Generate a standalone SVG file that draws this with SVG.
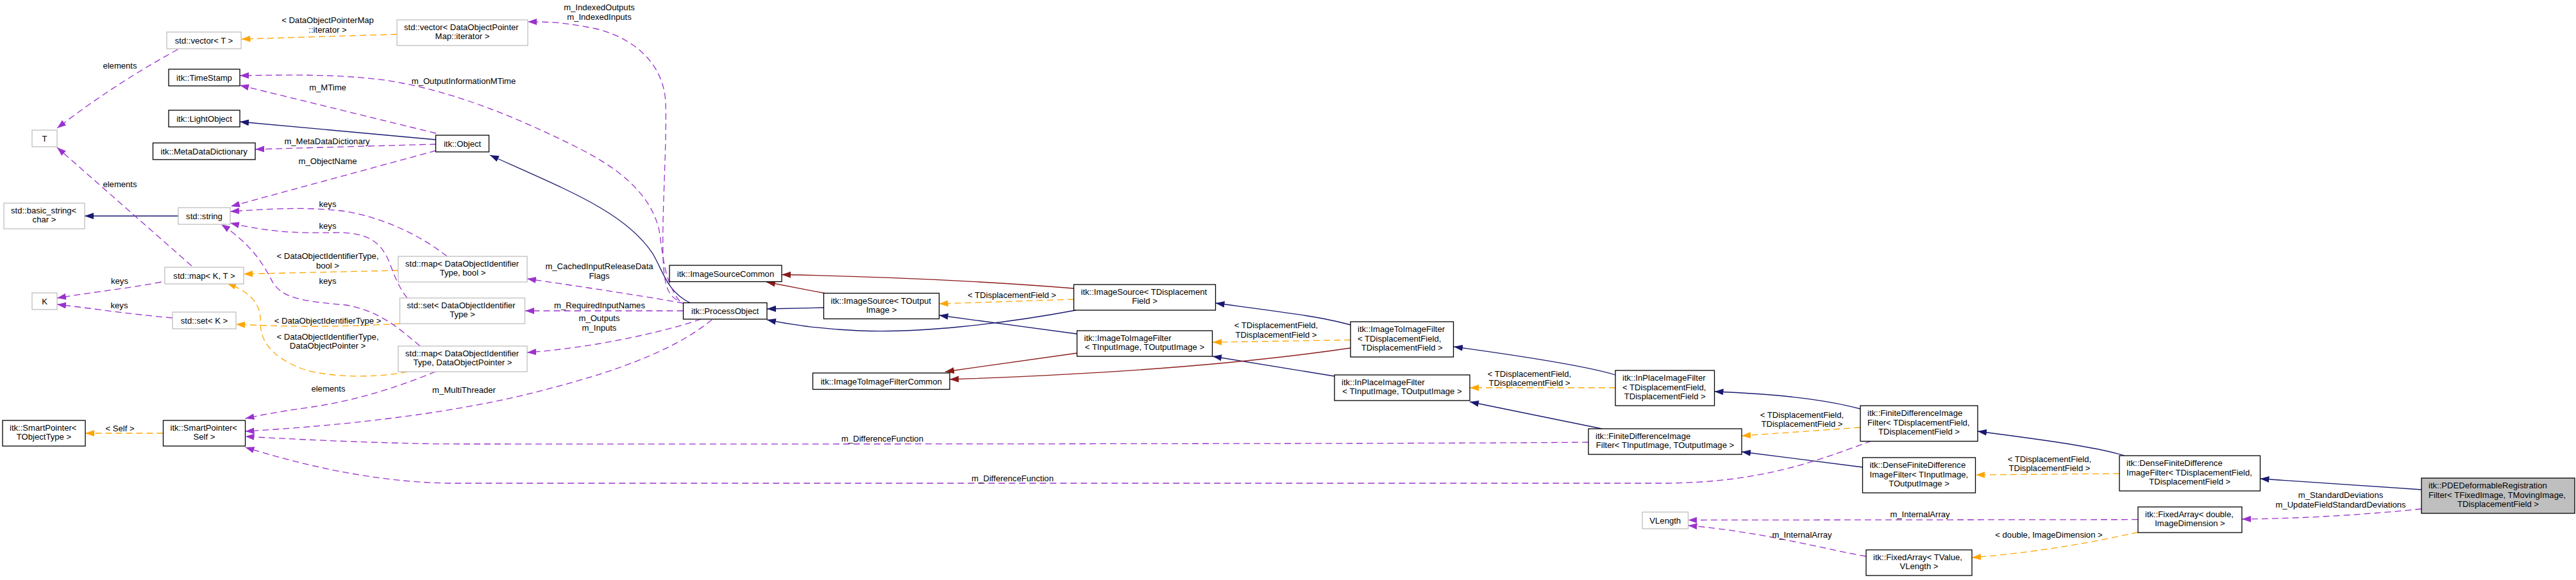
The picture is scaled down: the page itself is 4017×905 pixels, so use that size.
<svg xmlns="http://www.w3.org/2000/svg" width="4017" height="905" viewBox="0 0 4017 905">
<style>
text{font-family:"Liberation Sans",Arial,Helvetica,sans-serif;font-size:13.1px;fill:#000}
.m{text-anchor:middle}
.n rect{fill:#fff;stroke:#000;stroke-width:1.3}
.g rect{fill:#fff;stroke:#bfbfbf;stroke-width:1.3}
.sel rect{fill:#bfbfbf;stroke:#000;stroke-width:1.3}
.e path{fill:none;stroke-width:1.3}
.inh{stroke:#191970;marker-end:url(#aB)}
.priv{stroke:#8b1a1a;marker-end:url(#aR)}
.tmpl{stroke:#ffa500;stroke-dasharray:10,6;marker-end:url(#aO)}
.use{stroke:#9a32cd;stroke-dasharray:10,6;marker-end:url(#aP)}
</style>
<defs>
<marker id="aB" markerUnits="userSpaceOnUse" markerWidth="15" markerHeight="11" refX="14" refY="5" orient="auto"><path d="M0,0 L14,5 L0,10 z" fill="#191970"/></marker>
<marker id="aR" markerUnits="userSpaceOnUse" markerWidth="15" markerHeight="11" refX="14" refY="5" orient="auto"><path d="M0,0 L14,5 L0,10 z" fill="#8b1a1a"/></marker>
<marker id="aO" markerUnits="userSpaceOnUse" markerWidth="15" markerHeight="11" refX="14" refY="5" orient="auto"><path d="M0,0 L14,5 L0,10 z" fill="#ffa500"/></marker>
<marker id="aP" markerUnits="userSpaceOnUse" markerWidth="15" markerHeight="11" refX="14" refY="5" orient="auto"><path d="M0,0 L14,5 L0,10 z" fill="#9a32cd"/></marker>
</defs>
<rect width="4017" height="905" fill="#fff"/>
<g id="edges" class="e">
<path class="inh" d="M680,218 L374,190"/>
<path class="inh" d="M1077,473 C1040,455 1035,425 1018,396 C975,330 880,295 764,242"/>
<path class="inh" d="M1284.5,480 L1196,482"/>
<path class="inh" d="M1679.5,521 L1464.5,492"/>
<path class="inh" d="M1678,484 C1560,506 1430,520 1340,516 C1290,514 1240,508 1196,499"/>
<path class="inh" d="M2106,507 C2060,494 2000,487 1895.5,473"/>
<path class="inh" d="M2081,587 L1891,556"/>
<path class="inh" d="M2519,585 C2490,576 2420,562 2267,541"/>
<path class="inh" d="M2498,669 L2292,627"/>
<path class="inh" d="M2901,638 C2850,624 2780,615 2673.5,611"/>
<path class="inh" d="M2904.5,729 L2716,705"/>
<path class="inh" d="M3313,711 C3270,698 3200,688 3084,673"/>
<path class="inh" d="M3776,764 L3524.5,747"/>
<path class="inh" d="M278,337 L132,337"/>
<path class="priv" d="M1674.5,450 C1550,440 1400,432 1219,428.5"/>
<path class="priv" d="M1286,457.5 L1195,440"/>
<path class="priv" d="M1679.5,551 L1474,580"/>
<path class="priv" d="M2106,543 C1950,566 1750,583 1481,592"/>
<path class="tmpl" d="M619,53.5 L376.5,61"/>
<path class="tmpl" d="M621,422 L380,427.5"/>
<path class="tmpl" d="M624,505 C520,511 450,510 368,506"/>
<path class="tmpl" d="M635,580 C600,588 520,592 470,575 C420,555 405,530 406,500 C407,475 390,455 354,442"/>
<path class="tmpl" d="M1674.5,467 L1464.5,474"/>
<path class="tmpl" d="M2106,530.5 L1891,534"/>
<path class="tmpl" d="M2519,605 L2292,605"/>
<path class="tmpl" d="M2901,667 L2716,680"/>
<path class="tmpl" d="M3305,739 L3081,741"/>
<path class="tmpl" d="M3334,830.5 C3290,840 3200,860 3075,870"/>
<path class="tmpl" d="M254.5,676 L133,676"/>
<path class="use" d="M277.5,77 Q180,130 89,200"/>
<path class="use" d="M299,415 L89,230"/>
<path class="use" d="M251.5,440 C200,450 150,455 89,465"/>
<path class="use" d="M269,496 C200,490 150,482 89,475"/>
<path class="use" d="M680,208 L374,133"/>
<path class="use" d="M1060,470 C1036,440 1034,400 1028,360 C1015,300 960,260 900,230 C800,180 700,140 600,125 C520,115 450,117 374,118"/>
<path class="use" d="M1056,468 C1040,460 1035,440 1034,400 C1032,330 1040,230 1038,160 C1035,100 990,60 930,45 C880,35 860,34 823,34"/>
<path class="use" d="M680,225 L398,233"/>
<path class="use" d="M680,235 L360,322"/>
<path class="use" d="M697,400 C660,370 600,340 540,330 C480,322 420,326 359,330"/>
<path class="use" d="M635,465 C615,440 610,410 600,395 C585,370 560,362 520,363 C460,364 420,362 359,348"/>
<path class="use" d="M655,540 C620,510 590,485 540,476 C470,470 440,465 425,440 C410,410 390,380 345,350"/>
<path class="use" d="M679,580 C630,600 560,625 480,636 C430,643 410,647 382.5,653"/>
<path class="use" d="M1065.5,485 L819,485"/>
<path class="use" d="M1065.5,473 C1020,465 940,452 822,435"/>
<path class="use" d="M1093,498 C1060,510 1000,525 930,537 C880,545 850,548 822,550"/>
<path class="use" d="M1110,499 C1060,540 980,575 850,608 C750,635 600,660 382.5,673"/>
<path class="use" d="M2477,690 C2200,693 1000,693 680,692.7 C550,690 450,685 382.5,681"/>
<path class="use" d="M2918.5,688 C2830,720 2750,752 2600,754 L700,754 C580,752 470,725 382.5,698"/>
<path class="use" d="M3334,810.7 L2632.5,811.5"/>
<path class="use" d="M2910,868 C2850,858 2750,830 2632.5,820"/>
<path class="use" d="M3776,794 C3700,802 3600,809 3496,810"/>
</g>
<g id="edge-labels">
<text class="m" x="511" y="36.4">&lt; DataObjectPointerMap</text>
<text class="m" x="511" y="51.4">::iterator &gt;</text>
<text class="m" x="511" y="403.7">&lt; DataObjectIdentifierType,</text>
<text class="m" x="511" y="418.7">bool &gt;</text>
<text class="m" x="511" y="505.4">&lt; DataObjectIdentifierType &gt;</text>
<text class="m" x="511" y="529.7">&lt; DataObjectIdentifierType,</text>
<text class="m" x="511" y="544">DataObjectPointer &gt;</text>
<text class="m" x="1578" y="464.7">&lt; TDisplacementField &gt;</text>
<text class="m" x="1990" y="512.4">&lt; TDisplacementField,</text>
<text class="m" x="1990" y="527">TDisplacementField &gt;</text>
<text class="m" x="2385" y="587.7">&lt; TDisplacementField,</text>
<text class="m" x="2385" y="601.7">TDisplacementField &gt;</text>
<text class="m" x="2810" y="651.7">&lt; TDisplacementField,</text>
<text class="m" x="2810" y="665.7">TDisplacementField &gt;</text>
<text class="m" x="3196" y="720.7">&lt; TDisplacementField,</text>
<text class="m" x="3196" y="734.7">TDisplacementField &gt;</text>
<text class="m" x="3195" y="838.7">&lt; double, ImageDimension &gt;</text>
<text class="m" x="187" y="672.7">&lt; Self &gt;</text>
<text class="m" x="187" y="107.4">elements</text>
<text class="m" x="187" y="291.7">elements</text>
<text class="m" x="186.5" y="443.4">keys</text>
<text class="m" x="186" y="481.4">keys</text>
<text class="m" x="511" y="141.4">m_MTime</text>
<text class="m" x="723" y="131.4">m_OutputInformationMTime</text>
<text class="m" x="934.5" y="16.4">m_IndexedOutputs</text>
<text class="m" x="934.5" y="31.4">m_IndexedInputs</text>
<text class="m" x="510" y="224.7">m_MetaDataDictionary</text>
<text class="m" x="511" y="256.4">m_ObjectName</text>
<text class="m" x="511" y="322.7">keys</text>
<text class="m" x="511" y="357.4">keys</text>
<text class="m" x="511" y="443.4">keys</text>
<text class="m" x="512" y="611.4">elements</text>
<text class="m" x="935" y="481.4">m_RequiredInputNames</text>
<text class="m" x="934.5" y="420.4">m_CachedInputReleaseData</text>
<text class="m" x="934.5" y="435.4">Flags</text>
<text class="m" x="934.5" y="501.4">m_Outputs</text>
<text class="m" x="934.5" y="516.4">m_Inputs</text>
<text class="m" x="723.5" y="613">m_MultiThreader</text>
<text class="m" x="1376" y="688.7">m_DifferenceFunction</text>
<text class="m" x="1579" y="751.4">m_DifferenceFunction</text>
<text class="m" x="2994" y="807.4">m_InternalArray</text>
<text class="m" x="2810" y="838.7">m_InternalArray</text>
<text class="m" x="3650" y="777">m_StandardDeviations</text>
<text class="m" x="3650" y="792">m_UpdateFieldStandardDeviations</text>
</g>
<g id="n1" class="g"><rect x="260" y="50" width="116" height="26"/><text class="m" x="318" y="67.7">std::vector&lt; T &gt;</text></g>
<g id="n2" class="g"><rect x="619" y="31" width="204" height="40"/><text x="630" y="47">std::vector&lt; DataObjectPointer</text><text class="m" x="721" y="61.4">Map::iterator &gt;</text></g>
<g id="n3" class="n"><rect x="263" y="108" width="111" height="26"/><text class="m" x="318.5" y="125.7">itk::TimeStamp</text></g>
<g id="n4" class="n"><rect x="263" y="172" width="111" height="26"/><text class="m" x="318.5" y="189.7">itk::LightObject</text></g>
<g id="n5" class="n"><rect x="238.5" y="223" width="159.5" height="26"/><text class="m" x="318.25" y="240.7">itk::MetaDataDictionary</text></g>
<g id="n6" class="g"><rect x="50" y="203" width="39" height="26"/><text class="m" x="69.5" y="220.7">T</text></g>
<g id="n7" class="g"><rect x="6" y="317" width="126" height="40"/><text x="17" y="333">std::basic_string&lt;</text><text class="m" x="69" y="347.4">char &gt;</text></g>
<g id="n8" class="g"><rect x="278" y="324" width="81" height="26"/><text class="m" x="318.5" y="341.7">std::string</text></g>
<g id="n9" class="g"><rect x="257" y="417" width="123" height="26"/><text class="m" x="318.5" y="434.7">std::map&lt; K, T &gt;</text></g>
<g id="n10" class="g"><rect x="621" y="400" width="201" height="40"/><text x="632" y="416">std::map&lt; DataObjectIdentifier</text><text class="m" x="721.5" y="430.4">Type, bool &gt;</text></g>
<g id="n11" class="g"><rect x="50" y="457" width="39" height="26"/><text class="m" x="69.5" y="474.7">K</text></g>
<g id="n12" class="g"><rect x="269" y="487" width="99" height="26"/><text class="m" x="318.5" y="504.7">std::set&lt; K &gt;</text></g>
<g id="n13" class="g"><rect x="623.5" y="465" width="195" height="40"/><text x="634.5" y="481">std::set&lt; DataObjectIdentifier</text><text class="m" x="721" y="495.4">Type &gt;</text></g>
<g id="n14" class="g"><rect x="621" y="540" width="201" height="40"/><text x="632" y="556">std::map&lt; DataObjectIdentifier</text><text class="m" x="721.5" y="570.4">Type, DataObjectPointer &gt;</text></g>
<g id="n15" class="n"><rect x="4" y="656" width="129" height="40"/><text x="15" y="672">itk::SmartPointer&lt;</text><text class="m" x="68.5" y="686.4">TObjectType &gt;</text></g>
<g id="n16" class="n"><rect x="254.5" y="656" width="128" height="40"/><text x="265.5" y="672">itk::SmartPointer&lt;</text><text class="m" x="318.5" y="686.4">Self &gt;</text></g>
<g id="n17" class="n"><rect x="679.5" y="211" width="83" height="26"/><text class="m" x="721" y="228.7">itk::Object</text></g>
<g id="n18" class="n"><rect x="1044" y="414" width="175" height="25.5"/><text class="m" x="1131.5" y="431.5">itk::ImageSourceCommon</text></g>
<g id="n19" class="n"><rect x="1065.5" y="472.5" width="130.5" height="25.5"/><text class="m" x="1130.75" y="490">itk::ProcessObject</text></g>
<g id="n20" class="n"><rect x="1284.5" y="457.5" width="180" height="40"/><text x="1295.5" y="473.5">itk::ImageSource&lt; TOutput</text><text class="m" x="1374.5" y="487.9">Image &gt;</text></g>
<g id="n21" class="n"><rect x="1267.5" y="582" width="213.5" height="25.5"/><text class="m" x="1374.25" y="599.5">itk::ImageToImageFilterCommon</text></g>
<g id="n22" class="n"><rect x="1674.5" y="444" width="221" height="40"/><text x="1685.5" y="460">itk::ImageSource&lt; TDisplacement</text><text class="m" x="1785" y="474.4">Field &gt;</text></g>
<g id="n23" class="n"><rect x="1679.5" y="516" width="211" height="40"/><text x="1690.5" y="532">itk::ImageToImageFilter</text><text class="m" x="1785" y="546.4">&lt; TInputImage, TOutputImage &gt;</text></g>
<g id="n24" class="n"><rect x="2106" y="502" width="160.5" height="55"/><text x="2117" y="518.2">itk::ImageToImageFilter</text><text x="2117" y="532.8">&lt; TDisplacementField,</text><text class="m" x="2186.25" y="547.4">TDisplacementField &gt;</text></g>
<g id="n25" class="n"><rect x="2081" y="585" width="211" height="40"/><text x="2092" y="601">itk::InPlaceImageFilter</text><text class="m" x="2186.5" y="615.4">&lt; TInputImage, TOutputImage &gt;</text></g>
<g id="n26" class="n"><rect x="2519" y="578" width="154.5" height="55"/><text x="2530" y="594.2">itk::InPlaceImageFilter</text><text x="2530" y="608.8">&lt; TDisplacementField,</text><text class="m" x="2596.25" y="623.4">TDisplacementField &gt;</text></g>
<g id="n27" class="n"><rect x="2477" y="669" width="239" height="40"/><text x="2488" y="685">itk::FiniteDifferenceImage</text><text class="m" x="2596.5" y="699.4">Filter&lt; TInputImage, TOutputImage &gt;</text></g>
<g id="n28" class="g"><rect x="2561" y="799" width="71.5" height="26"/><text class="m" x="2596.75" y="816.7">VLength</text></g>
<g id="n29" class="n"><rect x="2901" y="633" width="183" height="55.5"/><text x="2912" y="649.2">itk::FiniteDifferenceImage</text><text x="2912" y="663.8">Filter&lt; TDisplacementField,</text><text class="m" x="2992.5" y="678.4">TDisplacementField &gt;</text></g>
<g id="n30" class="n"><rect x="2904.5" y="714" width="176" height="55"/><text x="2915.5" y="730.2">itk::DenseFiniteDifference</text><text x="2915.5" y="744.8">ImageFilter&lt; TInputImage,</text><text class="m" x="2992.5" y="759.4">TOutputImage &gt;</text></g>
<g id="n31" class="n"><rect x="3305" y="711" width="219.5" height="55"/><text x="3316" y="727.2">itk::DenseFiniteDifference</text><text x="3316" y="741.8">ImageFilter&lt; TDisplacementField,</text><text class="m" x="3414.75" y="756.4">TDisplacementField &gt;</text></g>
<g id="n32" class="n"><rect x="3334" y="791" width="162" height="40"/><text x="3345" y="807">itk::FixedArray&lt; double,</text><text class="m" x="3415" y="821.4">ImageDimension &gt;</text></g>
<g id="n33" class="n"><rect x="2910" y="858" width="165" height="40"/><text x="2921" y="874">itk::FixedArray&lt; TValue,</text><text class="m" x="2992.5" y="888.4">VLength &gt;</text></g>
<g id="n34" class="sel"><rect x="3776" y="746" width="239" height="55"/><text x="3787" y="762.2">itk::PDEDeformableRegistration</text><text x="3787" y="776.8">Filter&lt; TFixedImage, TMovingImage,</text><text class="m" x="3895.5" y="791.4">TDisplacementField &gt;</text></g>
</svg>
